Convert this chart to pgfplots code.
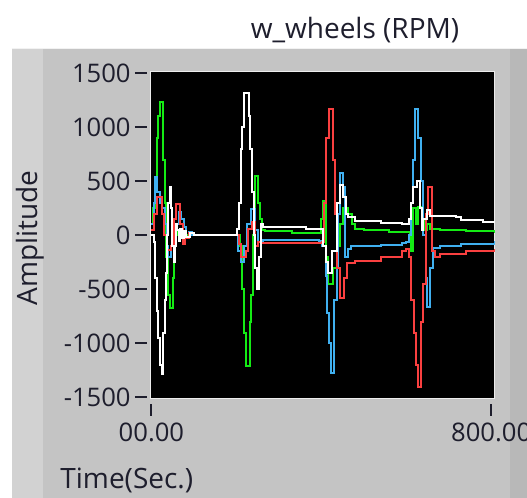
\documentclass[border=0pt]{standalone}
\usepackage{fontspec}
\setmainfont{Open Sans}
\usepackage{pgfplots}
\pgfplotsset{compat=1.18}

\definecolor{panel}{RGB}{196,196,196}
\definecolor{panellt}{RGB}{210,210,210}
\definecolor{paneldk}{RGB}{184,184,184}
\definecolor{txt}{RGB}{30,30,45}
\definecolor{wgreen}{RGB}{20,235,20}
\definecolor{wblue}{RGB}{64,176,240}
\definecolor{wred}{RGB}{250,64,64}

\begin{document}
\begin{tikzpicture}
% page = 527x498 px, 1px = 0.5pt
\useasboundingbox (0,0) rectangle (263.5pt,249pt);
\clip (0,0) rectangle (263.5pt,249pt);
\fill[white] (0,0) rectangle (263.5pt,249pt);
\fill[panel] (6pt,0) rectangle (263.5pt,225pt);
\fill[panellt] (6pt,0) rectangle (21.5pt,225pt);
\fill[paneldk] (255pt,0) rectangle (263.5pt,225pt);
\draw[white!90!gray, line width=0.5pt] (6pt,224.75pt) -- (263.5pt,224.75pt);

\begin{axis}[
    at={(75.5pt,49.5pt)}, anchor=south west,
    scale only axis,
    width=172pt, height=163.5pt,
    xmin=-1, xmax=809,
    ymin=-1515, ymax=1510,
    axis background/.style={fill=black},
    axis line style={draw=white!85!gray, line width=0.5pt},
    xtick={0,800}, xticklabels={00.00,800.00},
    ytick={-1500,-1000,-500,0,500,1000,1500},
    tick pos=left,
    tick align=outside,
    major tick length=6pt,
    ytick style={draw=txt, line width=1pt, xshift=-2pt},
    xtick style={draw=txt, line width=1pt, yshift=-2.5pt},
    tick label style={font=\fontsize{12.8}{15}\selectfont, text=txt},
    yticklabel style={inner sep=0pt, xshift=-4pt},
    xticklabel style={inner sep=0pt, yshift=-6pt},
    /pgf/number format/1000 sep={},
    /pgf/number format/assume math mode=true,
    clip=true,
    every axis plot/.append style={const plot, line width=1pt, mark=none},
]
% green
\addplot[wgreen] coordinates {
(0,100) (4,250) (8,500) (12,900) (16,1100) (20,1230) (27,700) (31,300)
(35,-200) (39,-550) (43,-670) (50,-400) (54,-100) (58,50) (62,0)
(200,0) (208,-100) (214,-500) (218,-900) (222,-1214) (231,-800) (235,-550)
(240,0) (245,546) (252,300) (256,150) (260,50) (268,37) (330,25) (365,20)
(395,20) (400,150) (405,320) (412,-200) (416,-450) (428,-300) (436,-100)
(444,100) (452,250) (462,200) (472,100) (480,60) (500,50) (560,30)
(608,20) (612,-150) (616,250) (622,100) (628,260) (636,150) (642,50)
(648,100) (656,60) (680,50) (740,35) (810,25)
};
% blue
\addplot[wblue] coordinates {
(0,100) (5,300) (9,537) (14,400) (20,300) (26,250) (31,100) (36,-100)
(40,-204) (47,-100) (52,0) (58,100) (64,213) (70,150) (76,80) (82,-30)
(88,30) (95,0)
(200,0) (205,-150) (210,-250) (218,-100) (226,100) (234,238) (244,50)
(252,-60) (262,-40) (330,-45) (395,-50)
(402,-100) (410,-380) (414,-720) (418,-1000) (422,-1275) (430,-600)
(436,-300) (440,200) (444,577) (452,450) (456,-200) (462,-130) (470,-100)
(540,-90) (590,-70)
(600,-60) (606,0) (612,300) (616,700) (620,1164) (628,900) (634,500)
(640,0) (646,-400) (650,-660) (656,-300) (662,-120) (680,-100) (730,-80)
(810,-50)
};
% red
\addplot[wred] coordinates {
(0,50) (5,200) (12,350) (24,200) (30,0) (36,-140) (46,-100) (52,150)
(58,290) (68,100) (74,-80) (80,-30) (88,20) (100,0)
(200,0) (206,-80) (212,-200) (222,-150) (228,60) (236,120) (244,-100)
(252,-60) (258,-75)
(395,-75) (402,-60) (406,300) (412,900) (418,1164) (428,700) (432,200)
(438,-300) (444,-580) (454,-400) (460,-260) (480,-240) (540,-200)
(590,-150)
(600,-130) (606,-200) (612,-600) (618,-900) (622,-1200) (628,-1400)
(634,-800) (640,-450) (646,200) (652,450) (660,-150) (668,-200)
(680,-170) (740,-150) (810,-130)
};
% white
\addplot[white] coordinates {
(0,0) (5,-60) (8,-400) (12,-700) (16,-950) (20,-1200) (24,-1280) (28,-900)
(31,-600) (34,-350) (37,0) (40,300) (43,450) (46,250) (49,-100) (52,-250)
(55,-100) (58,100) (61,50) (64,-50) (67,60) (72,-30) (77,40) (82,-20)
(90,20) (100,0)
(195,0) (202,60) (206,300) (210,800) (214,1000) (218,1318) (229,1100)
(233,800) (237,400) (241,0) (245,-300) (249,-500) (254,-200) (258,100)
(262,80) (365,60)
(400,60) (404,-100) (410,-250) (416,-350) (426,-150) (436,300) (444,460)
(452,350) (458,200) (464,170) (480,130) (540,110) (590,100)
(600,100) (606,150) (612,300) (617,450) (625,500) (632,250) (636,50)
(640,150) (648,230) (656,180) (718,170) (730,140) (780,120) (810,120)
};
\end{axis}

\node[text=txt, font=\fontsize{14}{16}\selectfont] at (177.5pt,234pt) {w\_wheels (RPM)};
\node[text=txt, font=\fontsize{14}{16}\selectfont, rotate=90] at (15pt,130pt) {Amplitude};
\node[text=txt, font=\fontsize{14}{16}\selectfont, anchor=west, inner sep=0pt] at (30pt,9pt) {Time(Sec.)};
\end{tikzpicture}
\end{document}
